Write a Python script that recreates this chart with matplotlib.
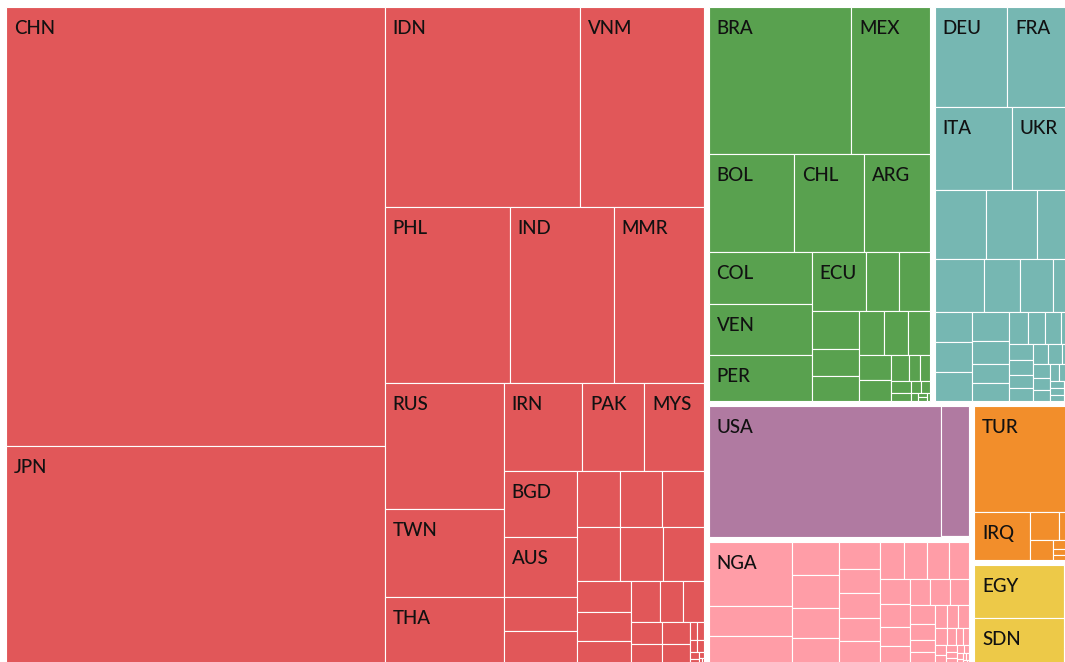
import matplotlib
matplotlib.use("Agg")
import matplotlib.pyplot as plt
from matplotlib.patches import Rectangle

# ---------------- data (area units) ----------------
group_names = ["Asia", "Latin America", "Europe", "North America", "Sub-Saharan Africa",
               "Middle East", "North Africa"]
group_colors = ["#e15759", "#59a14f", "#76b7b2", "#b07aa1", "#ff9da7", "#f28e2b", "#edc948"]

asia_labels = ["CHN", "JPN", "IDN", "VNM", "PHL", "IND", "MMR", "RUS", "TWN", "THA",
               "IRN", "PAK", "MYS", "BGD", "AUS"]
asia_values = [168406, 83244, 39579, 25168, 22200, 18524, 15931, 15262, 10601, 7987,
               6964, 5493, 5289, 4939, 4537, 2477, 2455, 2450, 2400, 2350, 2340, 2310,
               2230, 1693, 1537, 1230, 1220, 965, 868, 660, 620, 600, 560, 140, 110, 90,
               75, 60, 45, 30, 18, 10]

americas_labels = ["BRA", "MEX", "BOL", "CHL", "ARG", "COL", "VEN", "PER", "ECU"]
americas_values = [21724, 11920, 8569, 7002, 6630, 5579, 5440, 4907, 3299, 2016, 1894,
                   1877, 1322, 1210, 1139, 1066, 1003, 818, 706, 493, 296, 251, 234, 160,
                   114, 104, 62, 41, 31, 21]

europe_labels = ["DEU", "FRA", "ITA", "UKR"]
europe_values = [7600, 7141, 6695, 5518, 3700, 3640, 2740, 2720, 1978, 1813, 1215, 1210,
                 1170, 1140, 1130, 900, 740, 690, 640, 560, 555, 480, 410, 367, 327, 315,
                 300, 290, 270, 250, 210, 190, 170, 150, 130, 110, 100, 90, 80, 60, 50, 30]

namerica_labels = ["USA"]
namerica_values = [32296, 3843, 40]

africa_labels = ["NGA"]
africa_values = [5600, 2700, 2380, 1657, 1622, 1506, 1290, 1144, 1075, 1057, 1001, 988,
                 930, 905, 840, 800, 785, 720, 625, 540, 535, 530, 520, 515, 430, 340,
                 300, 295, 270, 260, 220, 150, 125, 120, 105, 95, 85, 75, 65, 55, 45, 40,
                 30, 25, 20, 15, 10]

mideast_labels = ["TUR", "IRQ"]
mideast_values = [11568, 2931, 890, 491, 480, 120, 90, 80, 60, 50, 40, 25, 15]

nafrica_labels = ["EGY", "SDN"]
nafrica_values = [5232, 4497, 420, 330, 250, 190]

groups = [
    (asia_labels, asia_values),
    (americas_labels, americas_values),
    (europe_labels, europe_values),
    (namerica_labels, namerica_values),
    (africa_labels, africa_values),
    (mideast_labels, mideast_values),
    (nafrica_labels, nafrica_values),
]

# ---------------- squarified treemap (d3-style, golden ratio) ----------------
PHI = (1 + 5 ** 0.5) / 2


def squarify(values, x0, y0, x1, y1, ratio=PHI):
    out = []
    n = len(values)
    i0 = i1 = 0
    value = float(sum(values))
    while i0 < n:
        dx, dy = x1 - x0, y1 - y0
        sumv = values[i1]
        i1 += 1
        minv = maxv = sumv
        alpha = max(dy / dx, dx / dy) / (value * ratio)
        beta = sumv * sumv * alpha
        minr = max(maxv / beta, beta / minv)
        while i1 < n:
            nv = values[i1]
            s2 = sumv + nv
            mn, mx = min(minv, nv), max(maxv, nv)
            beta = s2 * s2 * alpha
            newr = max(mx / beta, beta / mn)
            if newr > minr:
                break
            sumv, minv, maxv, minr = s2, mn, mx, newr
            i1 += 1
        row = values[i0:i1]
        if dx < dy:  # horizontal row on top
            ny = y1 if i1 >= n else y0 + dy * sumv / value
            x = x0
            for v in row:
                w = (x1 - x0) * v / sumv
                out.append((x, y0, x + w, ny))
                x += w
            y0 = ny
        else:        # vertical column on left
            nx = x1 if i1 >= n else x0 + dx * sumv / value
            y = y0
            for v in row:
                h = (y1 - y0) * v / sumv
                out.append((x0, y, nx, y + h))
                y += h
            x0 = nx
        value -= sumv
        i0 = i1
    return out


# ---------------- drawing ----------------
W, H = 1065, 662
fig = plt.figure(figsize=(W / 100, H / 100), dpi=100)
ax = fig.add_axes([0, 0, 1, 1])
ax.set_xlim(0, W)
ax.set_ylim(H, 0)
ax.axis("off")

GAP = 5.0
root = (3.5, 4.5, 1077.5, 666.0)
group_rects = squarify([sum(v) for _, v in groups], *root)

for (labels, values), color, (gx0, gy0, gx1, gy1) in zip(groups, group_colors, group_rects):
    ix0, iy0, ix1, iy1 = gx0 + GAP / 2, gy0 + GAP / 2, gx1 - GAP / 2, gy1 - GAP / 2
    cells = squarify(values, ix0, iy0, ix1, iy1)
    names = labels + [""] * (len(values) - len(labels))
    for name, (cx0, cy0, cx1, cy1) in zip(names, cells):
        ax.add_patch(Rectangle((cx0, cy0), cx1 - cx0, cy1 - cy0, facecolor=color,
                               edgecolor="white", linewidth=0.8))
        if name:
            ax.text(cx0 + 8, cy0 + 27, name, fontsize=13.5, family="Lato",
                    fontweight="medium", color="#111111", ha="left", va="baseline")

fig.savefig("out.png", dpi=100)
